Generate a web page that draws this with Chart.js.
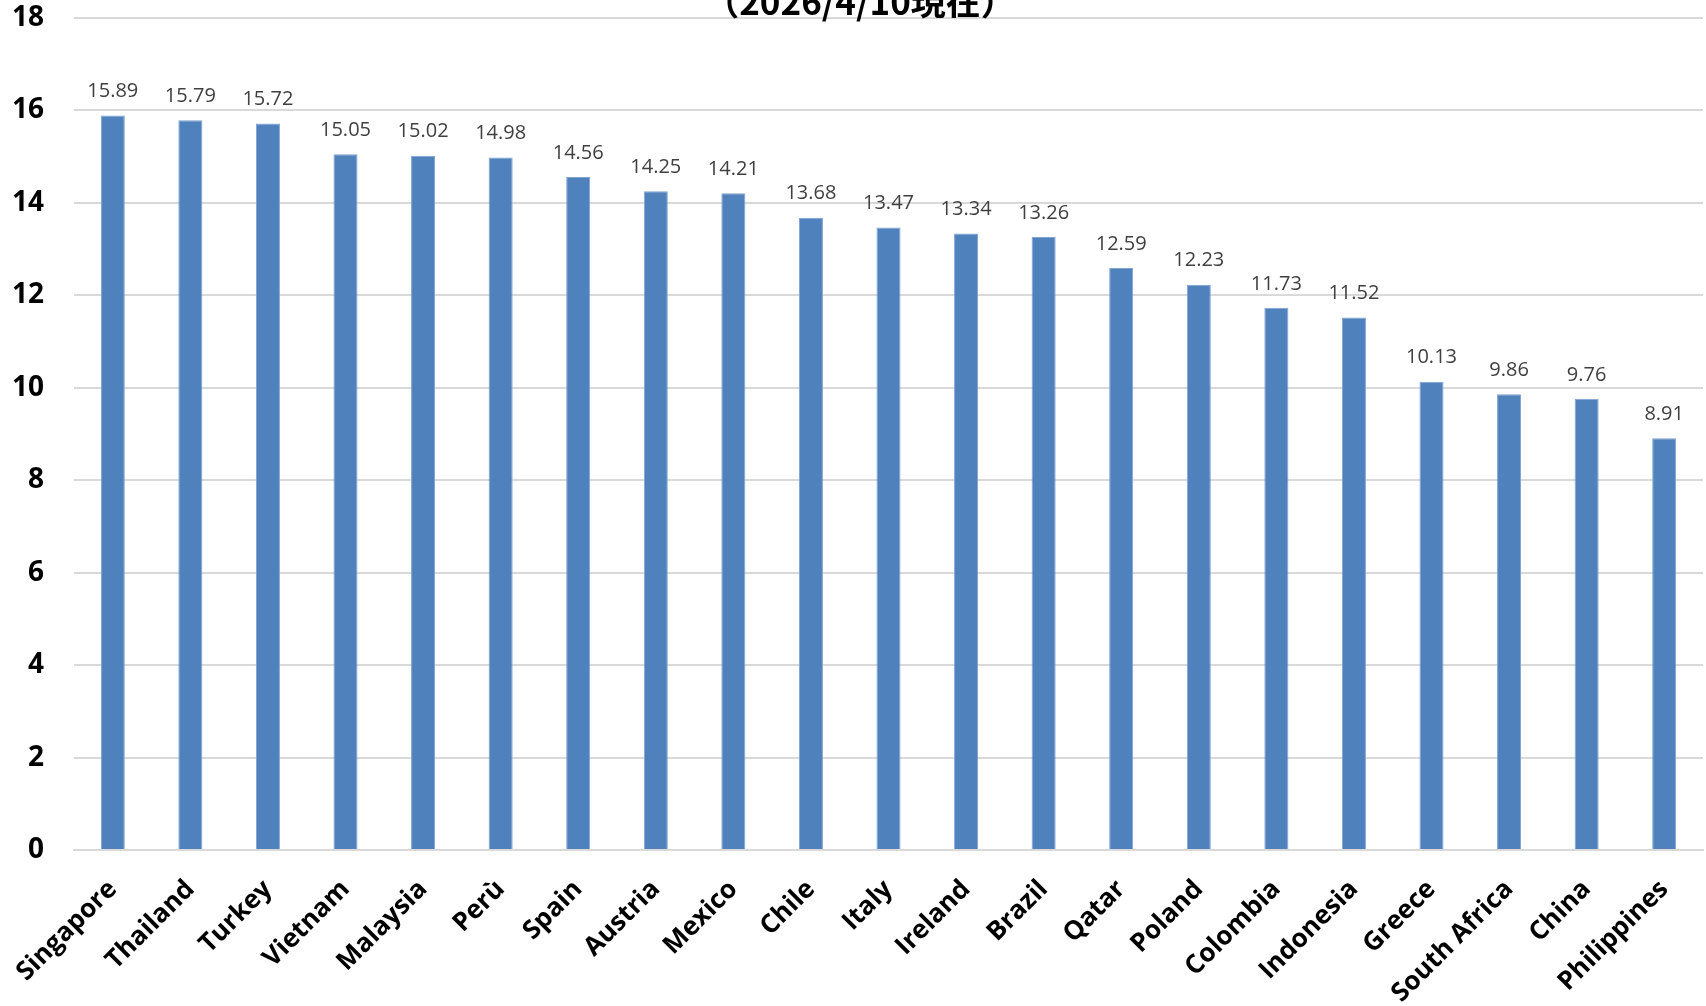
<!DOCTYPE html>
<html>
<head>
<meta charset="utf-8">
<script src="https://cdn.jsdelivr.net/npm/chart.js@4"></script>
<style>
  html, body { margin: 0; padding: 0; background: #fff; }
  #wrap { width: 1706px; height: 1006px; }
</style>
</head>
<body>
<div id="wrap"><canvas id="rateChart"></canvas></div>
<script>
// countries, sorted by value
const countries = ['Singapore', 'Thailand', 'Turkey', 'Vietnam', 'Malaysia', 'Perù', 'Spain', 'Austria', 'Mexico', 'Chile',
  'Italy', 'Ireland', 'Brazil', 'Qatar', 'Poland', 'Colombia', 'Indonesia', 'Greece', 'South Africa', 'China', 'Philippines'];
const values = [15.89, 15.79, 15.72, 15.05, 15.02, 14.98, 14.56, 14.25, 14.21, 13.68,
  13.47, 13.34, 13.26, 12.59, 12.23, 11.73, 11.52, 10.13, 9.86, 9.76, 8.91];
const yTicks = [0, 2, 4, 6, 8, 10, 12, 14, 16, 18];
const titleText = '（2026/4/10現在）';

// value labels above each bar
const valueLabels = {
    id: 'valueLabels',
    afterDatasetsDraw(chart) {
        const { ctx } = chart;
        const meta = chart.getDatasetMeta(0);
        ctx.save();
        ctx.font = '20px "Open Sans", sans-serif';
        ctx.fillStyle = '#404040';
        ctx.textAlign = 'center';
        ctx.textBaseline = 'middle';
        meta.data.forEach(function (bar, i) {
            ctx.fillText(values[i].toFixed(2), bar.x, bar.y - 24);
        });
        ctx.restore();
    }
};

// title sits partly above the canvas edge, like the cropped original
const cutTitle = {
    id: 'cutTitle',
    afterDraw(chart) {
        const { ctx } = chart;
        ctx.save();
        ctx.font = 'bold 35px "Noto Sans CJK JP", sans-serif';
        ctx.fillStyle = '#000';
        ctx.textAlign = 'center';
        ctx.textBaseline = 'alphabetic';
        ctx.fillText(titleText, 860, 15);
        ctx.restore();
    }
};

const ctx = document.getElementById('rateChart').getContext('2d');
new Chart(ctx, {
    type: 'bar',
    data: {
        labels: countries,
        datasets: [{
            data: values,
            backgroundColor: '#4F81BD',
            borderColor: '#7FA2CF',
            borderWidth: 1,
            barPercentage: 1,
            categoryPercentage: 0.31
        }]
    },
    options: {
        responsive: true,
        maintainAspectRatio: false,
        animation: false,
        layout: { padding: { top: 18, right: 3, left: 0, bottom: 0 } },
        plugins: {
            legend: { display: false },
            tooltip: { enabled: false }
        },
        scales: {
            x: {
                grid: { display: false },
                border: { display: true, color: '#D9D9D9', width: 2 },
                ticks: {
                    color: '#000',
                    font: { family: '"Open Sans", sans-serif', size: 26, weight: 'bold' },
                    maxRotation: 45,
                    minRotation: 45,
                    autoSkip: false,
                    padding: 16
                },
                afterFit(scale) { scale.height = 156; }
            },
            y: {
                min: 0,
                max: 18,
                afterBuildTicks(scale) { scale.ticks = yTicks.map(v => ({ value: v })); },
                grid: { color: '#D9D9D9', lineWidth: 2, drawTicks: false },
                border: { display: false },
                ticks: {
                    color: '#000',
                    font: { family: '"Open Sans", sans-serif', size: 28, weight: 'bold' },
                    padding: 30
                },
                afterFit(scale) {
                    scale.width = 74;
                    scale.paddingTop = 0;
                    scale.paddingBottom = 0;
                }
            }
        }
    },
    plugins: [valueLabels, cutTitle]
});
</script>
</body>
</html>
